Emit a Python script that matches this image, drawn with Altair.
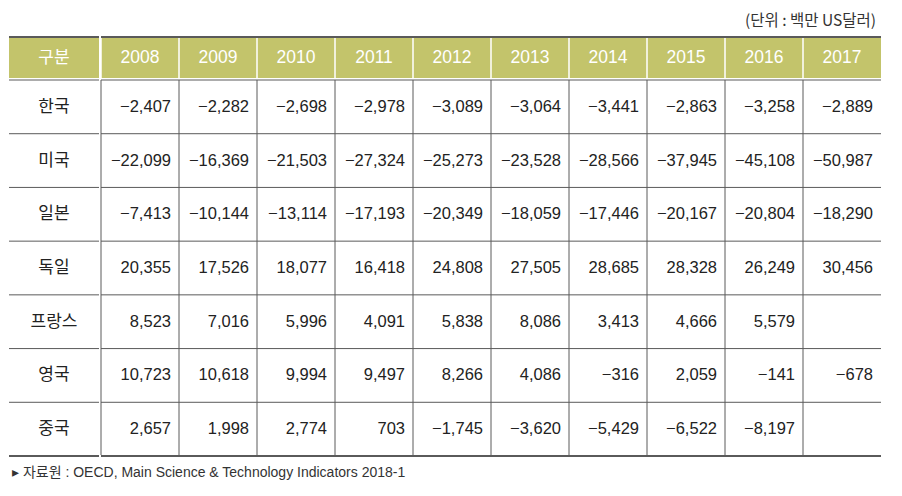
import altair as alt
import pandas as pd

years = ["2008", "2009", "2010", "2011", "2012", "2013", "2014", "2015", "2016", "2017"]
countries = ["한국", "미국", "일본", "독일", "프랑스", "영국", "중국"]
korea = [-2407, -2282, -2698, -2978, -3089, -3064, -3441, -2863, -3258, -2889]
usa = [-22099, -16369, -21503, -27324, -25273, -23528, -28566, -37945, -45108, -50987]
japan = [-7413, -10144, -13114, -17193, -20349, -18059, -17446, -20167, -20804, -18290]
germany = [20355, 17526, 18077, 16418, 24808, 27505, 28685, 28328, 26249, 30456]
france = [8523, 7016, 5996, 4091, 5838, 8086, 3413, 4666, 5579, None]
uk = [10723, 10618, 9994, 9497, 8266, 4086, -316, 2059, -141, -678]
china = [2657, 1998, 2774, 703, -1745, -3620, -5429, -6522, -8197, None]
series = [korea, usa, japan, germany, france, uk, china]

header_label = "구분"
unit_text = "(단위 : 백만 US달러)"
source_text = "▸ 자료원 : OECD, Main Science & Technology Indicators 2018-1"

GREEN = "#C3C46B"
LINE = "#5a5a5a"
TEXT = "#222222"
NUM_FONT = "Liberation Sans, Arial, Noto Sans CJK KR"
KR_FONT = "Noto Sans CJK KR"

LABEL_W = 90
YEAR_W = 780
TOTAL_W = LABEL_W + YEAR_W
HEAD_H = 42
BODY_H = 376


def fmt(v):
    if v is None:
        return ""
    return f"{v:,}".replace("-", "−")


rows = []
for c, vals in zip(countries, series):
    for y, v in zip(years, vals):
        rows.append({"country": c, "year": y, "label": fmt(v)})
df = pd.DataFrame(rows)
df_years = pd.DataFrame({"year": years})
df_countries = pd.DataFrame({"country": countries})

xband = alt.Scale(domain=years, paddingInner=0, paddingOuter=0)
yband = alt.Scale(domain=countries, paddingInner=0, paddingOuter=0)

# ---- unit line on top
unit = alt.Chart(pd.DataFrame({"t": [unit_text]})).mark_text(
    align="right", baseline="middle", font=KR_FONT, fontSize=15.5, color="#333333"
).encode(
    x=alt.value(TOTAL_W - 3), y=alt.value(13), text="t:N"
).properties(width=TOTAL_W, height=28)

# ---- header row
top_rule_l = alt.Chart(df_years.head(1)).mark_rule(color=LINE, strokeWidth=2).encode(
    x=alt.value(0), x2=alt.value(LABEL_W), y=alt.value(1)
)
hdr_label_bg = alt.Chart(df_years.head(1)).mark_rect(color=GREEN).encode(
    x=alt.value(0), x2=alt.value(LABEL_W), y=alt.value(2), y2=alt.value(HEAD_H)
)
hdr_label_txt = alt.Chart(pd.DataFrame({"t": [header_label]})).mark_text(
    font=KR_FONT, fontSize=17, color="white", baseline="middle"
).encode(x=alt.value(LABEL_W / 2), y=alt.value(HEAD_H / 2 + 1), text="t:N")
hdr_label = alt.layer(hdr_label_bg, top_rule_l, hdr_label_txt).properties(
    width=LABEL_W, height=HEAD_H
)

hdr_bg = alt.Chart(df_years).mark_rect(color=GREEN).encode(
    x=alt.X("year:N", scale=xband, axis=None), y=alt.value(2), y2=alt.value(HEAD_H)
)
hdr_sep = alt.Chart(df_years).mark_rule(color="white", strokeWidth=1.5).encode(
    x=alt.X("year:N", scale=xband, axis=None, bandPosition=0),
    y=alt.value(2), y2=alt.value(HEAD_H),
)
hdr_txt = alt.Chart(df_years).mark_text(
    font="Liberation Sans, Arial", fontSize=17.5, color="white", baseline="middle"
).encode(
    x=alt.X("year:N", scale=xband, axis=None, bandPosition=0.5),
    y=alt.value(HEAD_H / 2 + 1), text="year:N",
)
top_rule_r = alt.Chart(df_years.head(1)).mark_rule(color=LINE, strokeWidth=2).encode(
    x=alt.value(0), x2=alt.value(YEAR_W), y=alt.value(1)
)
hdr_years = alt.layer(hdr_bg, hdr_sep, top_rule_r, hdr_txt).properties(
    width=YEAR_W, height=HEAD_H
)

# ---- body
def hlines(width):
    inner = alt.Chart(df_countries).mark_rule(color=LINE, strokeWidth=1).encode(
        y=alt.Y("country:N", scale=yband, axis=None, bandPosition=0),
        x=alt.value(0), x2=alt.value(width),
    )
    bottom = alt.Chart(df_countries.tail(1)).mark_rule(color=LINE, strokeWidth=2).encode(
        y=alt.Y("country:N", scale=yband, axis=None, bandPosition=1),
        x=alt.value(0), x2=alt.value(width),
    )
    return inner, bottom


lab_txt = alt.Chart(df_countries).mark_text(
    font=KR_FONT, fontSize=17, color=TEXT, baseline="middle"
).encode(
    y=alt.Y("country:N", scale=yband, axis=None, bandPosition=0.5),
    x=alt.value(LABEL_W / 2), text="country:N",
)
li, lb = hlines(LABEL_W)
body_label = alt.layer(li, lb, lab_txt).properties(width=LABEL_W, height=BODY_H)

vsep = alt.Chart(df_years).mark_rule(color=LINE, strokeWidth=1).encode(
    x=alt.X("year:N", scale=xband, axis=None, bandPosition=0),
    y=alt.value(0), y2=alt.value(BODY_H - 1),
)
num_txt = alt.Chart(df).mark_text(
    font=NUM_FONT, fontSize=16.5, color=TEXT, baseline="middle", align="right", dx=-8
).encode(
    x=alt.X("year:N", scale=xband, axis=None, bandPosition=1),
    y=alt.Y("country:N", scale=yband, axis=None, bandPosition=0.5),
    text="label:N",
)
vi, vb = hlines(YEAR_W)
body_vals = alt.layer(vsep, vi, vb, num_txt).properties(width=YEAR_W, height=BODY_H)

# ---- footer
footer = alt.Chart(pd.DataFrame({"t": [source_text]})).mark_text(
    align="left", baseline="middle", font=NUM_FONT, fontSize=14, color="#333333"
).encode(x=alt.value(3), y=alt.value(16), text="t:N").properties(
    width=TOTAL_W, height=30
)

chart = alt.vconcat(
    unit,
    alt.hconcat(hdr_label, hdr_years, spacing=0),
    alt.hconcat(body_label, body_vals, spacing=0),
    footer,
    spacing=0,
).properties(
    padding={"left": 0, "top": 0, "right": 0, "bottom": 0}
).configure_view(stroke=None).configure_concat(spacing=0)

chart.save("out.html", embed_options={"renderer": "svg", "actions": False})
